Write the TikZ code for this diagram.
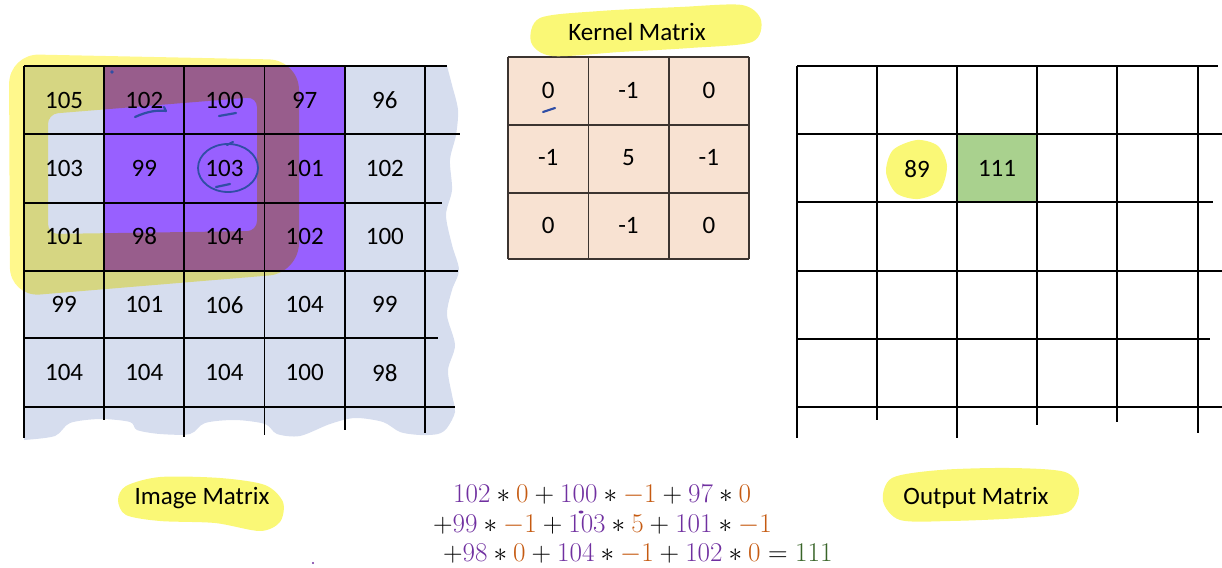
\documentclass[tikz,border=0pt]{standalone}
\usepackage[no-math]{fontspec}
\setmainfont{Carlito}
\usetikzlibrary{calc}

\definecolor{imgbg}{RGB}{214,221,238}
\definecolor{winpurple}{RGB}{152,96,255}
\definecolor{hl}{RGB}{250,248,118}
\definecolor{hlring}{RGB}{255,248,140}
\definecolor{kerfill}{RGB}{248,226,210}
\definecolor{kerstroke}{RGB}{60,52,48}
\definecolor{outgreen}{RGB}{169,209,142}
\definecolor{pen}{RGB}{48,78,165}
\definecolor{eqpur}{RGB}{112,48,160}
\definecolor{eqorg}{RGB}{197,90,17}
\definecolor{eqgrn}{RGB}{56,100,40}

\tikzset{
  num/.style={font=\fontsize{25}{30}\selectfont, inner sep=0pt, text=black},
  caption/.style={font=\fontsize{25}{30}\selectfont, inner sep=0pt, text=black},
  gridline/.style={line width=1.6pt, black},
  kergrid/.style={line width=1.6pt, draw=kerstroke},
  marker/.style={fill=hl, draw=none},
  penstroke/.style={draw=pen, line width=2.2pt, line cap=round, line join=round},
  eqline/.style={font=\fontsize{24.88}{30}\selectfont, inner sep=0pt, anchor=base west, scale=1.09},
}

\newcommand{\pu}[1]{\textcolor{eqpur}{#1}}
\newcommand{\og}[1]{\textcolor{eqorg}{#1}}

\begin{document}
\begin{tikzpicture}[x=1pt, y=-1pt]
\useasboundingbox (0,0) rectangle (1222,567);

% ---------- image matrix ----------
% pale blue paper with torn right and bottom edges
\fill[imgbg] (24,66) -- (447,66) -- plot[smooth] coordinates {
  (447,66) (452,85) (458,110) (456,135) (450,160) (452,190) (446,215)
  (452,245) (459,270) (452,290) (447,315) (455,345) (448,370) (452,395)
  (455,412) (447,428) (438,434) (420,435) (400,432) (383,422) (355,418)
  (330,424) (300,436) (277,434) (265,424) (235,420) (205,423) (190,434)
  (160,434) (137,430) (130,422) (100,419) (70,423) (55,436) (24,440)}
  -- cycle;

% 3x3 window under the kernel
\fill[winpurple] (104,66) rectangle (345,271);

% highlighter stroke around the window
\begin{scope}[blend mode=multiply]
  \fill[hlring, even odd rule]
    [rounded corners=30pt] (9,54) -- (299,60) -- (299,273) -- (10,297) -- cycle
    [rounded corners=10pt] (48,114) -- (257,97) -- (257,231) -- (48,234) -- cycle;
\end{scope}

% grid lines
\foreach \x/\b in {24/438, 104/420, 184/437, 264.5/435, 345/430, 425/433}
  \draw[gridline] (\x,66) -- (\x,\b);
\foreach \y/\e in {66/447, 134/460, 203/442, 271/458, 338/438, 407/455}
  \draw[gridline] (24,\y) -- (\e,\y);

% pixel values
\foreach \rowvals [count=\r] in {{105,102,100,97,96},{103,99,103,101,102},
    {101,98,104,102,100},{99,101,106,104,99},{104,104,104,100,98}}
  \foreach \v [count=\c] in \rowvals
    \node[num] (img-\r-\c) at ({24+80.2*(\c-0.5)}, {66+68.2*(\r-0.5)}) {\v};

% pen annotations on the image
\draw[penstroke] (135,117) .. controls (148,111) and (158,110) .. (166,111) -- (164,107);
\draw[penstroke] (219,116) -- (236,113);
\draw[draw=pen, line width=1.8pt] (228,168) ellipse [x radius=30pt, y radius=24pt];
\draw[penstroke] (227,145) -- (233,142);
\draw[penstroke] (216,187) -- (230,184);
\fill[fill=pen] (112,72) circle (1.8pt);

% ---------- kernel matrix ----------
\fill[kerfill] (508,57) rectangle (749,259);
\foreach \x in {508, 588.5, 669, 749}
  \draw[kergrid] (\x,57) -- (\x,259);
\foreach \y in {57, 125, 193, 259}
  \draw[kergrid] (508,\y) -- (749,\y);
\foreach \rowvals [count=\r] in {{0,-1,0},{-1,5,-1},{0,-1,0}}
  \foreach \v [count=\c] in \rowvals
    \node[num] (ker-\r-\c) at ({508+80.33*(\c-0.5)}, {57+67.3*(\r-0.5)}) {\v};
\draw[penstroke] (543,112) -- (555,108);

% ---------- output matrix ----------
\fill[outgreen] (957,134) rectangle (1037,202);
\fill[marker] plot[smooth cycle] coordinates {
  (917,140) (938,146) (947,166) (940,190) (918,199) (896,193) (886,172) (893,150)};
\foreach \x/\b in {797/438, 877/420, 957/438, 1037/425, 1117/422, 1198/433}
  \draw[gridline] (\x,66) -- (\x,\b);
\foreach \y/\e in {66/1218, 134/1222, 202/1213, 271/1222, 339/1210, 407/1222}
  \draw[gridline] (797,\y) -- (\e,\y);
\node[num] (out-2-2) at (917,169) {89};
\node[num] (out-2-3) at (997,168) {111};

% ---------- captions ----------
\fill[marker] plot[smooth cycle] coordinates {
  (540,18) (600,11) (680,7) (742,5) (761,20) (752,42) (690,48) (620,52) (552,56) (531,42)};
\node[caption] (kernel-title) at (637,32) {Kernel Matrix};

\fill[marker] plot[smooth cycle] coordinates {
  (126,486) (160,477) (220,478) (265,485) (283,502) (280,522) (260,531)
  (215,523) (160,521) (126,515) (118,500)};
\node[caption] (image-title) at (202,498) {Image Matrix};

\fill[marker] plot[smooth cycle] coordinates {
  (892,478) (940,470) (1010,468) (1065,472) (1079,490) (1068,512)
  (1020,518) (950,521) (900,520) (883,501)};
\node[caption] (output-title) at (976,498) {Output Matrix};

% ---------- worked sum ----------
\node[eqline] (eq-1) at (453,502)
  {$\pu{102}\ast\og{0}+\pu{100}\ast\og{-1}+\pu{97}\ast\og{0}$};
\node[eqline] (eq-2) at (433,532)
  {$+\pu{99}\ast\og{-1}+\pu{103}\ast\og{5}+\pu{101}\ast\og{-1}$};
\node[eqline] (eq-3) at (443,561)
  {$+\pu{98}\ast\og{0}+\pu{104}\ast\og{-1}+\pu{102}\ast\og{0}=\textcolor{eqgrn}{111}$};
\fill[fill=eqpur] (581,512) ellipse [x radius=2.5pt, y radius=1.5pt];
\fill[fill=eqpur] (313,563) circle (1.2pt);
\end{tikzpicture}
\end{document}
